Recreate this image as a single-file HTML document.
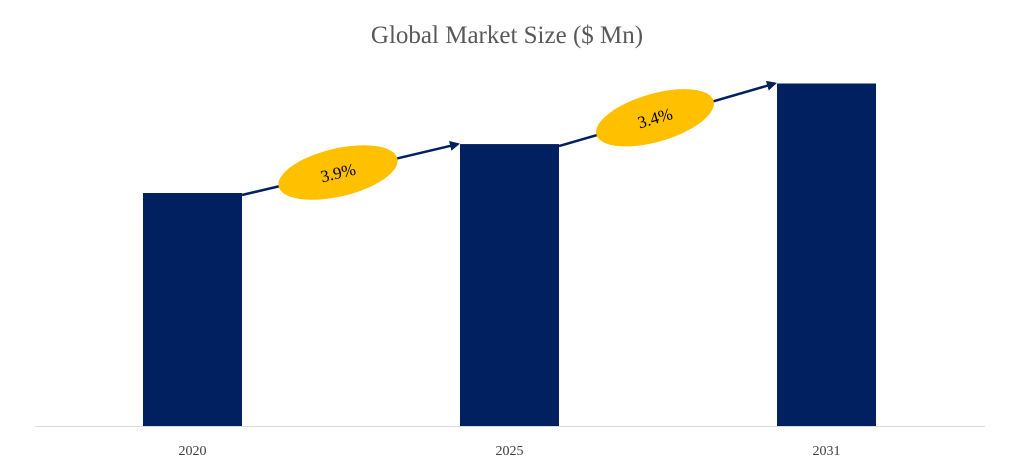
<!DOCTYPE html>
<html><head><meta charset="utf-8"><style>
body{margin:0;background:#fff;}
svg{display:block;font-family:"Liberation Serif",serif;}
</style></head><body>
<svg id="chart" width="1015" height="461">
<text x="507" y="43" text-anchor="middle" font-size="25" fill="#595959">Global Market Size ($ Mn)</text>
<line x1="35" y1="426.5" x2="985" y2="426.5" stroke="#d9d9d9" stroke-width="1"/>
<defs><marker id="ah" markerWidth="10" markerHeight="10" refX="8" refY="5" orient="auto" markerUnits="userSpaceOnUse"><path d="M0,0 L10,5 L0,10 Z" fill="#002060"/></marker></defs>
<g id="bars"></g><g id="growth"></g><g id="labels"></g>
</svg>
<script>
const categories = ["2020","2025","2031"];
const values = [100, 121, 147];
const growthLabels = ["3.9%","3.4%"];

const ns="http://www.w3.org/2000/svg";
const baseY=426, pxPerUnit=2.33, barW=99;
const xCenter=i=>192.5+i*317;
const yScale=v=>baseY-v*pxPerUnit;
const bars=document.getElementById('bars'), labels=document.getElementById('labels'), growth=document.getElementById('growth');
categories.forEach((c,i)=>{
  const r=document.createElementNS(ns,'rect');
  
  
  r.setAttribute('x',xCenter(i)-barW/2);
  r.setAttribute('y',yScale(values[i]));
  r.setAttribute('width',barW);
  r.setAttribute('height',baseY-yScale(values[i]));
  r.setAttribute('fill','#002060');
  bars.appendChild(r);
  const t=document.createElementNS(ns,'text');
  
  
  t.setAttribute('x',xCenter(i));
  t.setAttribute('y',455);
  t.setAttribute('text-anchor','middle');
  t.setAttribute('font-size','14');
  t.setAttribute('fill','#404040');
  t.textContent=c;
  labels.appendChild(t);
});
growthLabels.forEach((g,i)=>{
  const x1=xCenter(i)+barW/2, y1=yScale(values[i])+2;
  const x2=xCenter(i+1)-barW/2-2, y2=yScale(values[i+1]);
  const l=document.createElementNS(ns,'line');
  
  
  l.setAttribute('x1',x1);l.setAttribute('y1',y1);l.setAttribute('x2',x2);l.setAttribute('y2',y2);
  l.setAttribute('stroke','#002060');l.setAttribute('stroke-width','2.5');l.setAttribute('marker-end','url(#ah)');
  growth.appendChild(l);
  const cx=(x1+x2)/2-12, cy=(y1+y2)/2+3;
  const ang=Math.atan2(y2-y1,x2-x1)*180/Math.PI;
  const e=document.createElementNS(ns,'ellipse');
  
  
  e.setAttribute('cx',cx);e.setAttribute('cy',cy);e.setAttribute('rx',61);e.setAttribute('ry',24);
  e.setAttribute('fill','#ffc000');
  e.setAttribute('transform','rotate('+ang+' '+cx+' '+cy+')');
  growth.appendChild(e);
  const t=document.createElementNS(ns,'text');
  
  
  t.setAttribute('x',cx);t.setAttribute('y',cy+6);
  t.setAttribute('text-anchor','middle');t.setAttribute('font-size','17');t.setAttribute('fill','#000');
  t.setAttribute('transform','rotate('+ang+' '+cx+' '+cy+')');
  t.textContent=g;
  growth.appendChild(t);
});
</script>
</body></html>
